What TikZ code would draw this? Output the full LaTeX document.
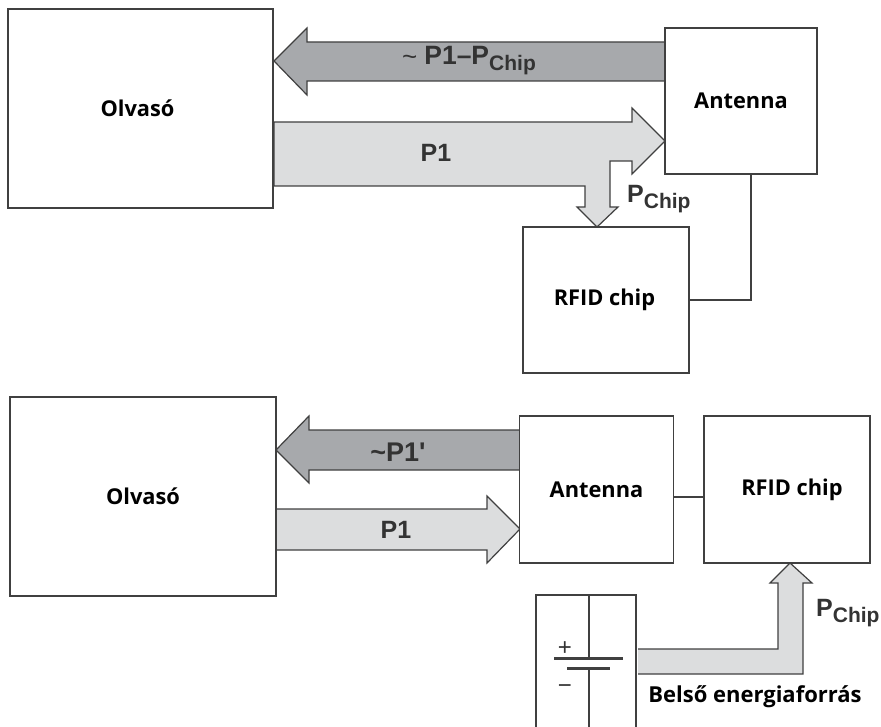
\documentclass[tikz,border=0pt]{standalone}
\usepackage{fontspec}
\newfontfamily\labfont{Liberation Sans}
\newfontfamily\capfont{Open Sans}
\usepackage{tikz}
\definecolor{darkarrow}{RGB}{167,169,172}
\definecolor{lightarrow}{RGB}{220,221,222}
\definecolor{labcol}{gray}{0.2}
\definecolor{edgecol}{gray}{0.25}
\newcommand{\subchip}{\raisebox{-6pt}{\fontsize{21}{21}\selectfont Chip}}
\tikzset{
  blockv/.style={draw=edgecol,line width=1.1pt,rectangle,fill=white,outer sep=0pt,inner sep=0pt,font=\capfont\bfseries\fontsize{21.8}{24}\selectfont,text=black},
  arrowd/.style={draw=edgecol,fill=darkarrow,line width=1.2pt,line join=miter},
  arrowl/.style={draw=edgecol,fill=lightarrow,line width=1.2pt,line join=miter},
  wire/.style={draw=edgecol,line width=1.1pt},
  lab/.style={font=\labfont\bfseries\fontsize{25}{25}\selectfont,text=labcol,inner sep=0pt},
  capt/.style={font=\capfont\bfseries\fontsize{22}{24}\selectfont,text=black,inner sep=0pt},
  signv/.style={font=\labfont\fontsize{24}{24}\selectfont,text=labcol,inner sep=0pt},
}
\begin{document}
\begin{tikzpicture}[x=1pt,y=1pt]
  \useasboundingbox (0,0) rectangle (881,-727);
  % upper circuit
  \filldraw[arrowd] (665,-42) -- (307,-42) -- (307,-28) -- (274,-61) -- (307,-95) -- (307,-81) -- (665,-81) -- cycle;
  \filldraw[arrowl] (274,-122) -- (632,-122) -- (632,-108) -- (665,-141) -- (632,-174) -- (632,-161) -- (610,-161) -- (610,-207) -- (618,-207) -- (597,-227) -- (577,-207) -- (585,-207) -- (585,-186) -- (274,-186) -- cycle;
  \node[blockv,minimum width=265pt,minimum height=199pt] (readerA) at (140.5,-108.5) {Olvasó\hspace*{6pt}};
  \node[blockv,minimum width=152pt,minimum height=146pt] (antennaA) at (741,-101) {Antenna};
  \node[blockv,minimum width=166pt,minimum height=146pt] (chipA) at (606,-300) {RFID chip\hspace*{3pt}};
  \coordinate (linkA) at (751,-174);
  \draw[wire] (chipA.east) -| (linkA);
  \node[lab] (retA) at (469,-61) {{\fontsize{26}{26}\selectfont\mdseries\raisebox{-1pt}{\textasciitilde}}\hspace{7pt}{\fontsize{26.5}{26}\selectfont P1–P}\subchip};
  \node[lab] (fwdA) at (436,-153) {P1};
  \node[lab,anchor=west] (pchipA) at (627,-199) {P\subchip};
  % lower circuit
  \filldraw[arrowd] (520,-430) -- (309,-430) -- (309,-416) -- (276,-450) -- (309,-483) -- (309,-470) -- (520,-470) -- cycle;
  \filldraw[arrowl] (276,-509) -- (487,-509) -- (487,-496) -- (520,-529) -- (487,-563) -- (487,-550) -- (276,-550) -- cycle;
  \filldraw[arrowl] (638,-649) -- (778,-649) -- (778,-583) -- (770,-583) -- (790,-563) -- (812,-583) -- (803,-583) -- (803,-674) -- (638,-674);
  \node[blockv,minimum width=266pt,minimum height=199pt] (readerB) at (143,-496.5) {Olvasó};
  \node[blockv,minimum width=154pt,minimum height=147pt] (antennaB) at (596.5,-489.5) {Antenna};
  \node[blockv,minimum width=166pt,minimum height=147pt] (chipB) at (787,-489.5) {\hspace*{10pt}RFID chip};
  \coordinate (linkB) at (antennaB.east |- 0,-497);
  \draw[wire] (linkB) -- (linkB -| chipB.west);
  \node[lab] (retB) at (398,-452) {\fontsize{27}{27}\selectfont\textasciitilde P1'};
  \node[lab] (fwdB) at (396,-530) {P1};
  \node[lab,anchor=west] (pchipB) at (816,-613) {P\subchip};
  % battery
  \draw[wire] (536,-727) -- (536,-595) -- (636,-595) -- (636,-727);
  \draw[wire] (589,-595) -- (589,-658);
  \draw[wire] (589,-668) -- (589,-727);
  \draw[edgecol,line width=3pt] (554,-658) -- (623,-658);
  \draw[edgecol,line width=3pt] (567,-668) -- (610,-668);
  \node[signv] (plus) at (565,-649) {+};
  \node[signv] (minus) at (565,-689) {−};
  \node[capt] (battery) at (755,-697) {Belső energiaforrás};
\end{tikzpicture}
\end{document}
